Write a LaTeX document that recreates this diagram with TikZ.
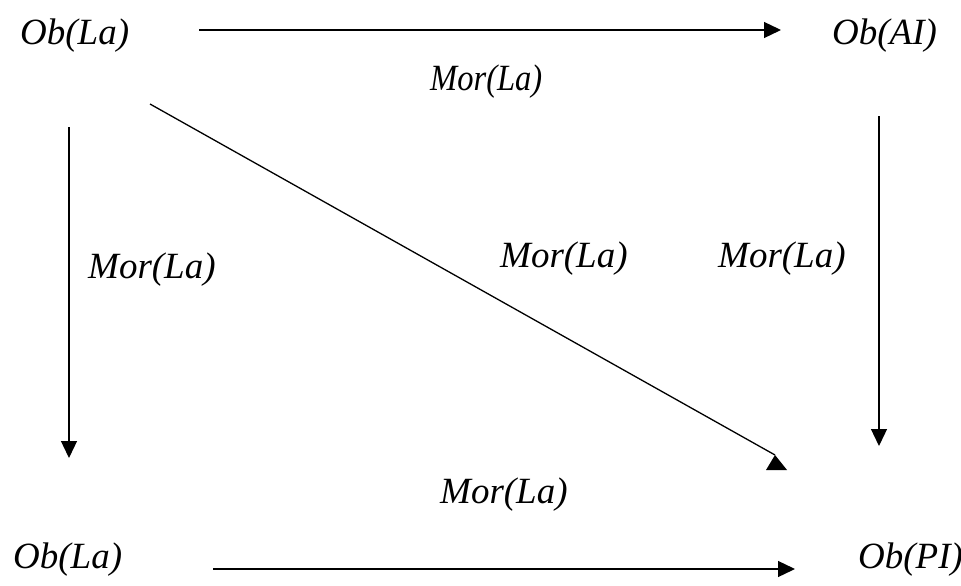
\documentclass[tikz,border=0pt]{standalone}
\usepackage{fontspec}
\setmainfont{Liberation Serif}
\usetikzlibrary{arrows.meta}
\newfontfamily\morfont[FakeStretch=0.88]{Liberation Serif}
\tikzset{
  obj/.style={anchor=base west, inner sep=0pt, font=\fontsize{37}{40}\selectfont\itshape},
  lbl/.style={anchor=base west, inner sep=0pt, font=\fontsize{37}{40}\selectfont\itshape},
  lbltop/.style={anchor=base west, inner sep=0pt, font=\morfont\fontsize{37}{40}\selectfont\itshape},
  arr/.style={line width=1.3pt, -{Triangle[length=17pt,width=16pt]}},
  ln/.style={line width=1.3pt},
  headfill/.style={fill=black, draw=none}
}
\begin{document}
\begin{tikzpicture}[x=1pt,y=-1pt]
\useasboundingbox (0,0) rectangle (961,586);
% objects
\node[obj] (ola) at (20,45) {Ob(La)};
\node[obj] (oai) at (832,45) {Ob(AI)};
\node[obj] (olb) at (13,568) {Ob(La)};
\node[obj] (opi) at (858,568) {Ob(PI)};
% labels
\node[lbltop] (m1) at (430,90) {Mor(La)};
\node[lbl] (m2) at (88,278) {Mor(La)};
\node[lbl] (m3) at (500,267) {Mor(La)};
\node[lbl] (m4) at (718,267) {Mor(La)};
\node[lbl] (m5) at (440,503) {Mor(La)};
% connector anchor points
\coordinate (a1s) at (199,30);
\coordinate (a1e) at (781,30);
\coordinate (a2s) at (69,127);
\coordinate (a2e) at (69,458);
\coordinate (a3s) at (879,116);
\coordinate (a3e) at (879,446);
\coordinate (a4s) at (213,569);
\coordinate (a4e) at (795,569);
\coordinate (d1s) at (150,104);
\coordinate (d1e) at (775,455);
\coordinate (h1) at (766,470);
\coordinate (h2) at (787,470);
% arrows
\draw[arr] (a1s) -- (a1e);
\draw[arr] (a2s) -- (a2e);
\draw[arr] (a3s) -- (a3e);
\draw[arr] (a4s) -- (a4e);
\draw[ln] (d1s) -- (d1e);
\fill[headfill] (d1e) -- (h2) -- (h1) -- cycle;
\end{tikzpicture}
\end{document}
